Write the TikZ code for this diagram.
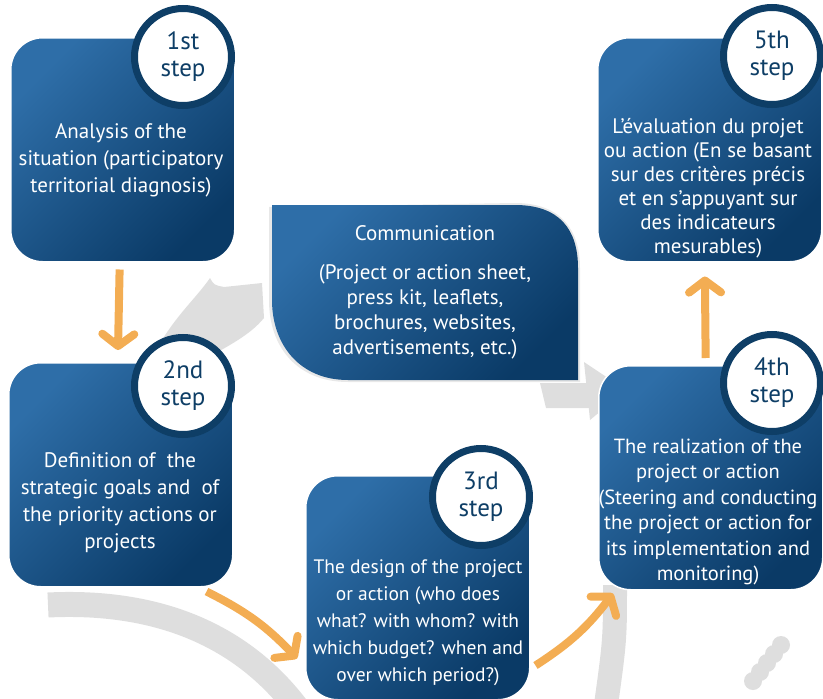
\documentclass[tikz,border=0pt]{standalone}
\usepackage{fontspec}
\setmainfont{PT Sans}
\usetikzlibrary{arrows.meta}

\definecolor{stepblue}{RGB}{46,110,168}
\definecolor{stepnavy}{RGB}{10,58,102}
\definecolor{ringnavy}{RGB}{14,62,102}
\definecolor{arroworange}{RGB}{243,173,83}
\definecolor{bandgray}{RGB}{222,222,222}

\begin{document}
\begin{tikzpicture}[x=1pt,y=-1pt,
    stepbox/.style={rectangle,rounded corners=32pt,top color=stepblue,bottom color=stepnavy,shading angle=45,draw=white,line width=1.5pt,anchor=north west,minimum width=224pt,minimum height=224pt},
    stepring/.style={circle,fill=white,draw=ringnavy,line width=7pt,minimum size=97pt,inner sep=0pt,align=center,text=ringnavy,font=\fontsize{25}{27}\selectfont},
    steptext/.style={align=center,text=white,font=\fontsize{21}{27}\selectfont},
    flow/.style={draw=arroworange,line width=8pt,-{Straight Barb[round,length=12pt,width=32pt]}},
    band/.style={draw=bandgray,line width=25pt}]
  \useasboundingbox (0,0) rectangle (823,699);

  % grey ring in the background
  \fill[bandgray] (210,278) .. controls (214,285) .. (224,287) -- (262,283) -- (264,318) .. controls (250,335) and (230,345) .. (200,362) -- (150,362) .. controls (170,320) and (195,300) .. (210,278) -- cycle;
  \draw[band] (48,605) .. controls (150,600) and (240,630) .. (300,712);
  \draw[band,line width=24pt] (615,585) .. controls (615,640) .. (605,712);
  \fill[bandgray] (540,383) -- (590,383) -- (590,408) -- (546,408) -- cycle;
  \fill[bandgray] (584,362) -- (626,390) -- (590,420) -- cycle;
  \foreach \k in {0,...,4}
    \fill[bandgray] ({781-7*\k},{645+9*\k}) circle (9pt);

  % communication panel
  \fill[gray!18] (269,207) -- (515,203) .. controls (561,203) and (580,230) .. (580,268) -- (580,382) -- (348,382) .. controls (298,382) and (269,348) .. (269,300) -- cycle;
  \shade[top color=stepblue,bottom color=stepnavy,shading angle=45] (272,205) -- (515,205) .. controls (560,205) and (578,230) .. (578,268) -- (578,380) -- (348,380) .. controls (300,380) and (272,345) .. (272,300) -- cycle;
  \node[steptext] (commtitle) at (425,233) {Communication};
  \node[steptext,font=\fontsize{21}{25}\selectfont] (commlist) at (425,312) {(Project or action sheet,\\press kit, leaflets,\\brochures, websites,\\advertisements, etc.)};

  % step boxes
  \node[stepbox] (s1) at (10,37) {};
  \node[stepbox] (s2) at (8,362) {};
  \node[stepbox] (s3) at (305,475) {};
  \node[stepbox] (s4) at (598,365) {};
  \node[stepbox] (s5) at (597,37) {};

  % step numbers
  \node[stepring] (c1) at (183,57) {1st\\step};
  \node[stepring] (c2) at (183,386) {2nd\\step};
  \node[stepring] (c3) at (481,497) {3rd\\step};
  \node[stepring] (c4) at (772,383) {4th\\step};
  \node[stepring] (c5) at (772,56) {5th\\step};

  % step texts
  \node[steptext] (t1) at (121,160) {Analysis of the\\situation (participatory\\territorial diagnosis)};
  \node[steptext] (t2) at (120,503) {Definition of~ the\\strategic goals and~ of\\the priority actions or\\projects};
  \node[steptext,font=\fontsize{19.5}{27}\selectfont] (t3) at (418,623) {The design of the project\\or action (who does\\what? with whom? with\\which budget? when and\\over which period?)};
  \node[steptext,font=\fontsize{20.5}{25.5}\selectfont] (t4) at (708,512) {The realization of the\\project or action\\(Steering and conducting\\the project or action for\\its implementation and\\monitoring)};
  \node[steptext,font=\fontsize{21}{24}\selectfont] (t5) at (708,188) {L’évaluation du projet\\ou action (En se basant\\sur des critères précis\\et en s’appuyant sur\\des indicateurs\\mesurables)};

  % arrows between the steps
  \draw[flow,shorten <=7pt,shorten >=12pt] ([xshift=-3pt]s1.south) -- ([xshift=-3pt]s2.north);
  \draw[flow] ([shift={(-27pt,-4pt)}]s2.south east) to[bend left=10] ([shift={(-8pt,42pt)}]s3.south west);
  \draw[flow] ([shift={(5pt,35pt)}]s3.south east) to[bend right=10] ([shift={(15pt,-3pt)}]s4.south west);
  \draw[flow,shorten <=7pt,shorten >=14pt] ([xshift=-5pt]s4.north) -- ([xshift=-5pt]s5.south);
\end{tikzpicture}
\end{document}
